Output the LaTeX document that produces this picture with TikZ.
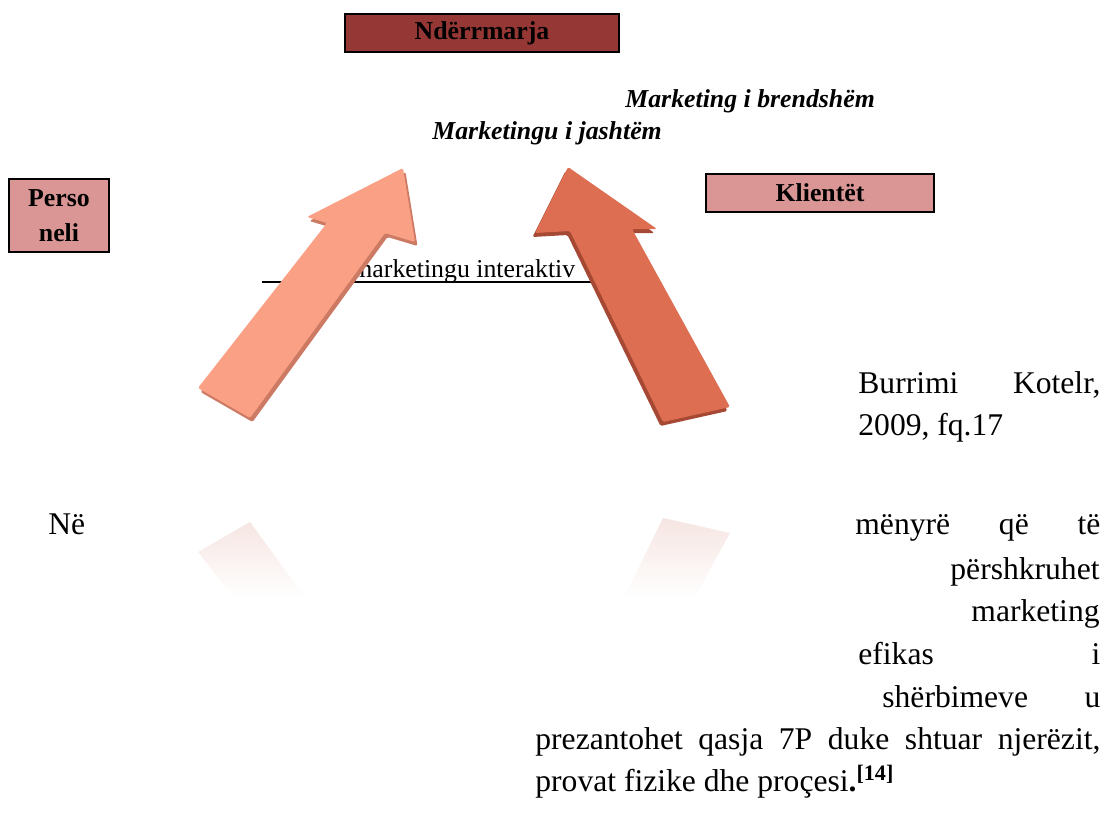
\documentclass[tikz,border=0pt]{standalone}
\usepackage{fontspec}
\setmainfont{Liberation Serif}
\definecolor{firm}{RGB}{149,55,53}
\definecolor{pinkbox}{RGB}{217,150,148}
\definecolor{arrA}{RGB}{250,160,132}
\definecolor{arrAd}{RGB}{205,122,100}
\definecolor{arrB}{RGB}{222,110,82}
\definecolor{arrBd}{RGB}{165,72,52}
\definecolor{refl}{RGB}{245,228,225}
\begin{document}
\begin{tikzpicture}[x=0.5pt,y=-0.5pt,
  lbl/.style={font=\fontsize{12.9}{17.5}\selectfont\bfseries, text=black},
  boxA/.style={draw=black, line width=1.1pt, inner sep=0pt, lbl, align=center},
  body/.style={font=\fontsize{15.8}{20}\selectfont, inner sep=0pt, anchor=base west},
  ital/.style={font=\fontsize{12.9}{15}\selectfont\bfseries\itshape, inner sep=0pt, anchor=base west},
]
\useasboundingbox (0,0) rectangle (1105,816);
\fill[white] (0,0) rectangle (1105,816);

% boxes
\node[boxA, fill=firm, minimum width=137pt, minimum height=19pt] (firm) at (482,33) {Ndërrmarja};
\node[boxA, fill=pinkbox, minimum width=50pt, minimum height=36.5pt] (pers) at (59,215.5) {Perso\\neli};
\node[boxA, fill=pinkbox, minimum width=114pt, minimum height=19pt] (kli) at (820,193) {Klientët};

% labels
\node[ital] (brend) at (625,107) {Marketing i brendshëm};
\node[ital] (jasht) at (432,139) {Marketingu i jashtëm};
\node[font=\fontsize{12.9}{15}\selectfont, inner sep=0pt, anchor=base west] (inter) at (352,277) {marketingu interaktiv};
\coordinate (ulL) at (262,282);
\coordinate (ulR) at (593,282);
\draw[line width=0.6pt] (ulL) -- (ulR);

% reflections
\begin{scope}
\clip (198,552) -- (250,522) -- (385,707) -- (415,698) -- (403,772) -- (307,723) -- (327,717) -- cycle;
\shade[top color=refl, bottom color=white] (150,518) rectangle (450,598);
\end{scope}
\begin{scope}
\clip (568,773) -- (657,711) -- (632,711) -- (730,533) -- (663,518) -- (570,709) -- (535,707) -- cycle;
\shade[top color=refl, bottom color=white] (520,515) rectangle (760,598);
\end{scope}

% left arrow
\fill[arrAd, shift={(2.5,4)}, rounded corners=0.8pt] (198,388) -- (250,418) -- (385,233) -- (415,242) -- (403,168) -- (307,217) -- (327,223) -- cycle;
\fill[arrA, rounded corners=0.8pt] (198,388) -- (250,418) -- (385,233) -- (415,242) -- (403,168) -- (307,217) -- (327,223) -- cycle;

% right arrow
\fill[arrBd, shift={(-2.5,4)}, rounded corners=0.8pt] (568,167) -- (657,229) -- (632,229) -- (730,407) -- (663,422) -- (570,231) -- (535,233) -- cycle;
\fill[arrB, rounded corners=0.8pt] (568,167) -- (657,229) -- (632,229) -- (730,407) -- (663,422) -- (570,231) -- (535,233) -- cycle;

% source text
\node[body] (src1) at (858,393) {\makebox[121pt][s]{Burrimi Kotelr,}};
\node[body] (src2) at (858,435) {2009, fq.17};

% body text
\node[body] (ne) at (48,534) {Në};
\node[body] (l1) at (855,534) {\makebox[122.5pt][s]{mënyrë që të}};
\node[body, anchor=base east] (l2) at (1100,579) {përshkruhet};
\node[body, anchor=base east] (l3) at (1100,621) {marketing};
\node[body] (l4) at (858,664) {\makebox[121pt][s]{efikas i}};
\node[body] (l5) at (882,707) {\makebox[109pt][s]{shërbimeve u}};
\node[body] (l6) at (535,749) {\makebox[282.5pt][s]{prezantohet qasja 7P duke shtuar njerëzit,}};
\node[body] (l7) at (535,791) {provat fizike dhe proçesi\textbf{.}\textsuperscript{\textbf{[14]}}};
\end{tikzpicture}
\end{document}
